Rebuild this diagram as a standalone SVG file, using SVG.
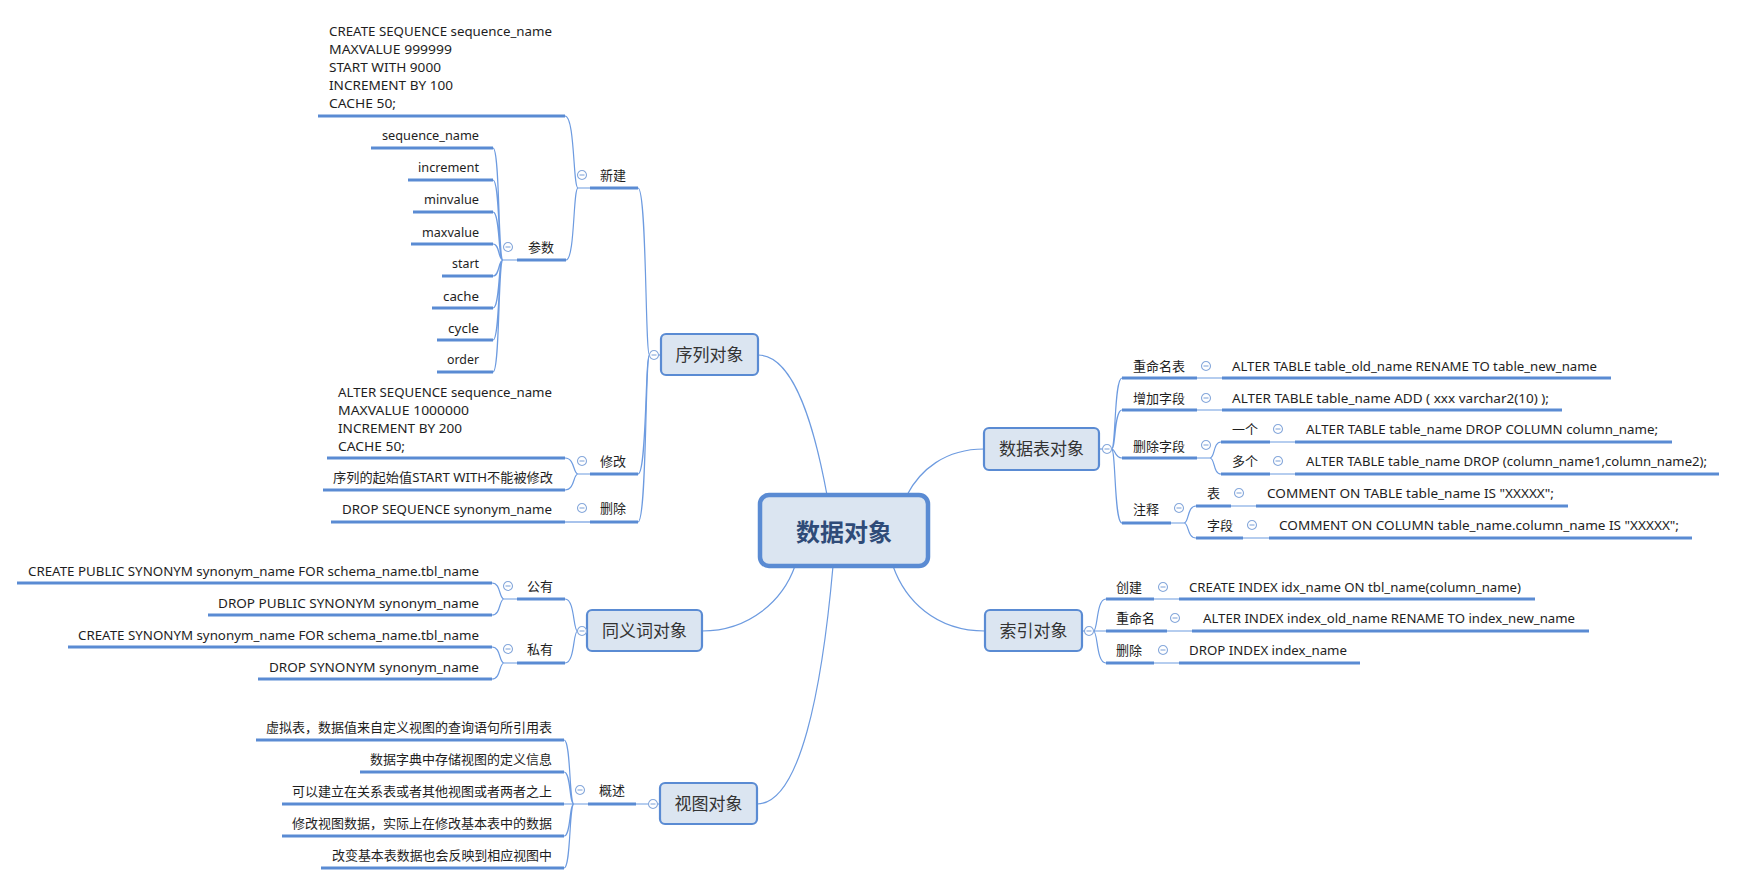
<svg xmlns="http://www.w3.org/2000/svg" xmlns:xlink="http://www.w3.org/1999/xlink" width="1737" height="885" viewBox="0 0 1737 885">
<style>
.t{font-family:"Noto Sans","Noto Sans CJK SC",sans-serif;font-size:13px;fill:#1e1e1e}
.tb{font-family:"Noto Sans CJK SC","Noto Sans",sans-serif;font-size:17px;fill:#333;text-anchor:middle}
.root{font-family:"Noto Sans CJK SC","Noto Sans",sans-serif;font-size:24px;font-weight:bold;fill:#2f4b78;text-anchor:middle}
.ul{stroke:#5a8bd3;stroke-width:3;fill:none}
.cn{stroke:#6d9be0;stroke-width:1.2;fill:none}
.box{fill:#dbe5f1;stroke:#5a8bd3;stroke-width:2.2}
.rbox{fill:#dbe5f1;stroke:#5a8bd3;stroke-width:4.5}
</style>
<defs>
<g id="minus"><circle cx="0" cy="0" r="4.5" fill="#fff" stroke="#86a8db" stroke-width="1.1"/><line x1="-2.5" y1="0" x2="2.5" y2="0" stroke="#86a8db" stroke-width="1.1"/></g>
</defs>
<rect width="1737" height="885" fill="#fff"/>

<g id="connectors">
<path class="cn" d="M827,495 C815,430 795,355 758,355"/>
<path class="cn" d="M907,495 C920,470 945,449 984,449"/>
<path class="cn" d="M795,566 C783,600 750,631 702,631"/>
<path class="cn" d="M833,566 C822,690 800,804 757,804"/>
<path class="cn" d="M893,566 C905,600 935,631 985,631"/>
<!-- sequence -->
<path class="cn" d="M658.5,355 H661"/>
<path class="cn" d="M649.5,355 C645,355 647,188 638,188"/>
<path class="cn" d="M649.5,355 C645,355 647,474 638,474"/>
<path class="cn" d="M649.5,355 C645,355 647,522 638,522"/>
<path class="cn" d="M590,188 H578 M578,188 C573,188 575,116 565,116 M578,188 C573,188 575,260 566,260"/>
<path class="cn" d="M590,474 H578 M578,474 C573,474 575,458 565,458 M578,474 C573,474 575,490 565,490"/>
<path class="cn" d="M590,522 H565"/>
<path class="cn" d="M517,260 H503 M503,260 C498,260 500,148 493,148 M503,260 C498,260 500,180 493,180 M503,260 C498,260 500,212 493,212 M503,260 C498,260 500,244 493,244 M503,260 C498,260 500,276 493,276 M503,260 C498,260 500,308 493,308 M503,260 C498,260 500,340 493,340 M503,260 C498,260 500,372 493,372"/>
<!-- synonym -->
<path class="cn" d="M586.5,631 H587"/>
<path class="cn" d="M577.5,631 C573,631 575,599 565,599 M577.5,631 C573,631 575,663 565,663"/>
<path class="cn" d="M517,599 H504 M504,599 C499,599 501,583 492,583 M504,599 C499,599 501,615 492,615"/>
<path class="cn" d="M517,663 H504 M504,663 C499,663 501,647 492,647 M504,663 C499,663 501,679 492,679"/>
<!-- view -->
<path class="cn" d="M657.5,804 H660 M648.5,804 H636"/>
<path class="cn" d="M588,804 H564 M574,804 C569,804 571,740 564,740 M574,804 C569,804 571,772 564,772 M574,804 C569,804 571,836 564,836 M574,804 C569,804 571,868 564,868"/>
<!-- table -->
<path class="cn" d="M1099,449 H1102.5"/>
<path class="cn" d="M1111.5,449 C1116,449 1114,378 1122,378 M1111.5,449 C1116,449 1114,410 1122,410 M1111.5,449 C1116,449 1114,458 1122,458 M1111.5,449 C1116,449 1114,523 1122,523"/>
<path class="cn" d="M1197,378 H1222 M1197,410 H1222"/>
<path class="cn" d="M1197,458 H1210 M1210,458 C1215,458 1213,442 1221,442 M1210,458 C1215,458 1213,474 1221,474"/>
<path class="cn" d="M1270,442 H1295 M1270,474 H1295"/>
<path class="cn" d="M1171,523 H1184 M1184,523 C1189,523 1187,506 1196,506 M1184,523 C1189,523 1187,538 1196,538"/>
<path class="cn" d="M1231,506 H1256 M1243,538 H1269"/>
<!-- index -->
<path class="cn" d="M1082,631 H1084.5"/>
<path class="cn" d="M1093.5,631 C1098,631 1096,599 1106,599 M1093.5,631 H1106 M1093.5,631 C1098,631 1096,663 1106,663"/>
<path class="cn" d="M1154,599 H1179 M1167,631 H1192 M1154,663 H1179"/>
</g>

<g id="root-node">
<rect class="rbox" x="760" y="495" width="168" height="71" rx="9"/>
<text class="root" x="844" y="540.5">数据对象</text>
</g>

<!-- 序列对象 -->
<g id="seq">
<rect class="box" x="661" y="334" width="97" height="41" rx="5"/>
<text class="tb" x="709.5" y="361">序列对象</text>
<use xlink:href="#minus" x="654" y="355"/>
</g>
<g id="seq-new">
<text class="t" x="600" y="180">新建</text>
<line class="ul" x1="590" y1="188" x2="638" y2="188"/>
<use xlink:href="#minus" x="582" y="175"/>
</g>
<g id="seq-create-sql">
<text class="t" x="329" y="36" textLength="223" lengthAdjust="spacingAndGlyphs">CREATE SEQUENCE sequence_name</text>
<text class="t" x="329" y="54" textLength="123" lengthAdjust="spacingAndGlyphs">MAXVALUE 999999</text>
<text class="t" x="329" y="72" textLength="112" lengthAdjust="spacingAndGlyphs">START WITH 9000</text>
<text class="t" x="329" y="90" textLength="124" lengthAdjust="spacingAndGlyphs">INCREMENT BY 100</text>
<text class="t" x="329" y="108" textLength="67" lengthAdjust="spacingAndGlyphs">CACHE 50;</text>
<line class="ul" x1="318" y1="116" x2="565" y2="116"/>
</g>
<g id="seq-params">
<text class="t" x="528" y="252">参数</text>
<line class="ul" x1="517" y1="260" x2="566" y2="260"/>
<use xlink:href="#minus" x="508" y="247"/>
</g>
<g id="p-seqname"><text class="t" x="382" y="140" textLength="97" lengthAdjust="spacingAndGlyphs">sequence_name</text><line class="ul" x1="371" y1="148" x2="493" y2="148"/></g>
<g id="p-increment"><text class="t" x="418" y="172" textLength="61" lengthAdjust="spacingAndGlyphs">increment</text><line class="ul" x1="408" y1="180" x2="493" y2="180"/></g>
<g id="p-minvalue"><text class="t" x="424" y="204" textLength="55" lengthAdjust="spacingAndGlyphs">minvalue</text><line class="ul" x1="413" y1="212" x2="493" y2="212"/></g>
<g id="p-maxvalue"><text class="t" x="422" y="237" textLength="57" lengthAdjust="spacingAndGlyphs">maxvalue</text><line class="ul" x1="411" y1="244" x2="493" y2="244"/></g>
<g id="p-start"><text class="t" x="452" y="268" textLength="27" lengthAdjust="spacingAndGlyphs">start</text><line class="ul" x1="442" y1="276" x2="493" y2="276"/></g>
<g id="p-cache"><text class="t" x="443" y="301" textLength="36" lengthAdjust="spacingAndGlyphs">cache</text><line class="ul" x1="432" y1="308" x2="493" y2="308"/></g>
<g id="p-cycle"><text class="t" x="448" y="333" textLength="31" lengthAdjust="spacingAndGlyphs">cycle</text><line class="ul" x1="437" y1="340" x2="493" y2="340"/></g>
<g id="p-order"><text class="t" x="447" y="364" textLength="32" lengthAdjust="spacingAndGlyphs">order</text><line class="ul" x1="437" y1="372" x2="493" y2="372"/></g>
<g id="seq-modify">
<text class="t" x="600" y="466">修改</text>
<line class="ul" x1="590" y1="474" x2="638" y2="474"/>
<use xlink:href="#minus" x="582" y="461"/>
</g>
<g id="seq-alter-sql">
<text class="t" x="338" y="397" textLength="214" lengthAdjust="spacingAndGlyphs">ALTER SEQUENCE sequence_name</text>
<text class="t" x="338" y="415" textLength="131" lengthAdjust="spacingAndGlyphs">MAXVALUE 1000000</text>
<text class="t" x="338" y="433" textLength="124" lengthAdjust="spacingAndGlyphs">INCREMENT BY 200</text>
<text class="t" x="338" y="451" textLength="67" lengthAdjust="spacingAndGlyphs">CACHE 50;</text>
<line class="ul" x1="327" y1="458" x2="565" y2="458"/>
</g>
<g id="seq-start-note">
<text class="t" x="333" y="482" textLength="220" lengthAdjust="spacingAndGlyphs">序列的起始值START WITH不能被修改</text>
<line class="ul" x1="323" y1="490" x2="565" y2="490"/>
</g>
<g id="seq-delete">
<text class="t" x="600" y="513">删除</text>
<line class="ul" x1="590" y1="522" x2="638" y2="522"/>
<use xlink:href="#minus" x="582" y="508"/>
</g>
<g id="seq-drop-sql">
<text class="t" x="342" y="514" textLength="210" lengthAdjust="spacingAndGlyphs">DROP SEQUENCE synonym_name</text>
<line class="ul" x1="331" y1="522" x2="565" y2="522"/>
</g>

<!-- 同义词对象 -->
<g id="syn">
<rect class="box" x="587" y="610" width="115" height="41" rx="5"/>
<text class="tb" x="644.5" y="637">同义词对象</text>
<use xlink:href="#minus" x="582" y="631"/>
</g>
<g id="syn-public">
<text class="t" x="527" y="591">公有</text>
<line class="ul" x1="517" y1="599" x2="565" y2="599"/>
<use xlink:href="#minus" x="508" y="586"/>
</g>
<g id="syn-cps"><text class="t" x="28" y="576" textLength="451" lengthAdjust="spacingAndGlyphs">CREATE PUBLIC SYNONYM synonym_name FOR schema_name.tbl_name</text><line class="ul" x1="17" y1="583" x2="492" y2="583"/></g>
<g id="syn-dps"><text class="t" x="218" y="608" textLength="261" lengthAdjust="spacingAndGlyphs">DROP PUBLIC SYNONYM synonym_name</text><line class="ul" x1="208" y1="615" x2="492" y2="615"/></g>
<g id="syn-private">
<text class="t" x="527" y="654">私有</text>
<line class="ul" x1="517" y1="663" x2="565" y2="663"/>
<use xlink:href="#minus" x="508" y="649"/>
</g>
<g id="syn-cs"><text class="t" x="78" y="640" textLength="401" lengthAdjust="spacingAndGlyphs">CREATE SYNONYM synonym_name FOR schema_name.tbl_name</text><line class="ul" x1="68" y1="647" x2="492" y2="647"/></g>
<g id="syn-ds"><text class="t" x="269" y="672" textLength="210" lengthAdjust="spacingAndGlyphs">DROP SYNONYM synonym_name</text><line class="ul" x1="258" y1="679" x2="492" y2="679"/></g>

<!-- 视图对象 -->
<g id="view">
<rect class="box" x="660" y="783" width="97" height="41" rx="5"/>
<text class="tb" x="708.5" y="810">视图对象</text>
<use xlink:href="#minus" x="653" y="804"/>
</g>
<g id="view-overview">
<text class="t" x="599" y="795">概述</text>
<line class="ul" x1="588" y1="804" x2="636" y2="804"/>
<use xlink:href="#minus" x="580" y="790"/>
</g>
<g id="v1"><text class="t" x="266" y="732" textLength="286" lengthAdjust="spacingAndGlyphs">虚拟表，数据值来自定义视图的查询语句所引用表</text><line class="ul" x1="256" y1="740" x2="564" y2="740"/></g>
<g id="v2"><text class="t" x="370" y="764" textLength="182" lengthAdjust="spacingAndGlyphs">数据字典中存储视图的定义信息</text><line class="ul" x1="360" y1="772" x2="564" y2="772"/></g>
<g id="v3"><text class="t" x="292" y="796" textLength="260" lengthAdjust="spacingAndGlyphs">可以建立在关系表或者其他视图或者两者之上</text><line class="ul" x1="282" y1="804" x2="564" y2="804"/></g>
<g id="v4"><text class="t" x="292" y="828" textLength="260" lengthAdjust="spacingAndGlyphs">修改视图数据，实际上在修改基本表中的数据</text><line class="ul" x1="282" y1="836" x2="564" y2="836"/></g>
<g id="v5"><text class="t" x="332" y="860" textLength="220" lengthAdjust="spacingAndGlyphs">改变基本表数据也会反映到相应视图中</text><line class="ul" x1="321" y1="868" x2="564" y2="868"/></g>

<!-- 数据表对象 -->
<g id="table">
<rect class="box" x="984" y="428" width="115" height="42" rx="5"/>
<text class="tb" x="1041.5" y="455">数据表对象</text>
<use xlink:href="#minus" x="1107" y="449"/>
</g>
<g id="t-rename">
<text class="t" x="1133" y="371">重命名表</text>
<line class="ul" x1="1122" y1="378" x2="1197" y2="378"/>
<use xlink:href="#minus" x="1206" y="366"/>
</g>
<g id="t-rename-sql"><text class="t" x="1232" y="371" textLength="365" lengthAdjust="spacingAndGlyphs">ALTER TABLE table_old_name RENAME TO table_new_name</text><line class="ul" x1="1222" y1="378" x2="1611" y2="378"/></g>
<g id="t-add">
<text class="t" x="1133" y="403">增加字段</text>
<line class="ul" x1="1122" y1="410" x2="1197" y2="410"/>
<use xlink:href="#minus" x="1206" y="398"/>
</g>
<g id="t-add-sql"><text class="t" x="1232" y="403" textLength="317" lengthAdjust="spacingAndGlyphs">ALTER TABLE table_name ADD ( xxx varchar2(10)  );</text><line class="ul" x1="1222" y1="410" x2="1562" y2="410"/></g>
<g id="t-drop">
<text class="t" x="1133" y="451">删除字段</text>
<line class="ul" x1="1122" y1="458" x2="1197" y2="458"/>
<use xlink:href="#minus" x="1206" y="445"/>
</g>
<g id="t-drop-one">
<text class="t" x="1232" y="434">一个</text>
<line class="ul" x1="1221" y1="442" x2="1270" y2="442"/>
<use xlink:href="#minus" x="1278" y="429"/>
</g>
<g id="t-drop-one-sql"><text class="t" x="1306" y="434" textLength="352" lengthAdjust="spacingAndGlyphs">ALTER TABLE table_name DROP COLUMN column_name;</text><line class="ul" x1="1295" y1="442" x2="1672" y2="442"/></g>
<g id="t-drop-multi">
<text class="t" x="1232" y="466">多个</text>
<line class="ul" x1="1221" y1="474" x2="1270" y2="474"/>
<use xlink:href="#minus" x="1278" y="461"/>
</g>
<g id="t-drop-multi-sql"><text class="t" x="1306" y="466" textLength="401" lengthAdjust="spacingAndGlyphs">ALTER TABLE table_name DROP (column_name1,column_name2);</text><line class="ul" x1="1295" y1="474" x2="1719" y2="474"/></g>
<g id="t-comment">
<text class="t" x="1133" y="514">注释</text>
<line class="ul" x1="1122" y1="523" x2="1171" y2="523"/>
<use xlink:href="#minus" x="1179" y="508"/>
</g>
<g id="t-comment-table">
<text class="t" x="1207" y="498">表</text>
<line class="ul" x1="1196" y1="506" x2="1231" y2="506"/>
<use xlink:href="#minus" x="1239" y="493"/>
</g>
<g id="t-comment-table-sql"><text class="t" x="1267" y="498" textLength="287" lengthAdjust="spacingAndGlyphs">COMMENT ON TABLE table_name IS "XXXXX";</text><line class="ul" x1="1256" y1="506" x2="1568" y2="506"/></g>
<g id="t-comment-col">
<text class="t" x="1207" y="530">字段</text>
<line class="ul" x1="1196" y1="538" x2="1243" y2="538"/>
<use xlink:href="#minus" x="1252" y="525"/>
</g>
<g id="t-comment-col-sql"><text class="t" x="1279" y="530" textLength="400" lengthAdjust="spacingAndGlyphs">COMMENT ON COLUMN table_name.column_name IS "XXXXX";</text><line class="ul" x1="1269" y1="538" x2="1692" y2="538"/></g>

<!-- 索引对象 -->
<g id="index">
<rect class="box" x="985" y="610" width="97" height="41" rx="5"/>
<text class="tb" x="1033.5" y="637">索引对象</text>
<use xlink:href="#minus" x="1089" y="631"/>
</g>
<g id="i-create">
<text class="t" x="1116" y="592">创建</text>
<line class="ul" x1="1106" y1="599" x2="1154" y2="599"/>
<use xlink:href="#minus" x="1163" y="587"/>
</g>
<g id="i-create-sql"><text class="t" x="1189" y="592" textLength="332" lengthAdjust="spacingAndGlyphs">CREATE INDEX idx_name ON tbl_name(column_name)</text><line class="ul" x1="1179" y1="599" x2="1535" y2="599"/></g>
<g id="i-rename">
<text class="t" x="1116" y="623">重命名</text>
<line class="ul" x1="1106" y1="631" x2="1167" y2="631"/>
<use xlink:href="#minus" x="1175" y="618"/>
</g>
<g id="i-rename-sql"><text class="t" x="1203" y="623" textLength="372" lengthAdjust="spacingAndGlyphs">ALTER INDEX index_old_name RENAME TO index_new_name</text><line class="ul" x1="1192" y1="631" x2="1589" y2="631"/></g>
<g id="i-drop">
<text class="t" x="1116" y="655">删除</text>
<line class="ul" x1="1106" y1="663" x2="1154" y2="663"/>
<use xlink:href="#minus" x="1163" y="650"/>
</g>
<g id="i-drop-sql"><text class="t" x="1189" y="655" textLength="158" lengthAdjust="spacingAndGlyphs">DROP INDEX index_name</text><line class="ul" x1="1179" y1="663" x2="1360" y2="663"/></g>
</svg>
